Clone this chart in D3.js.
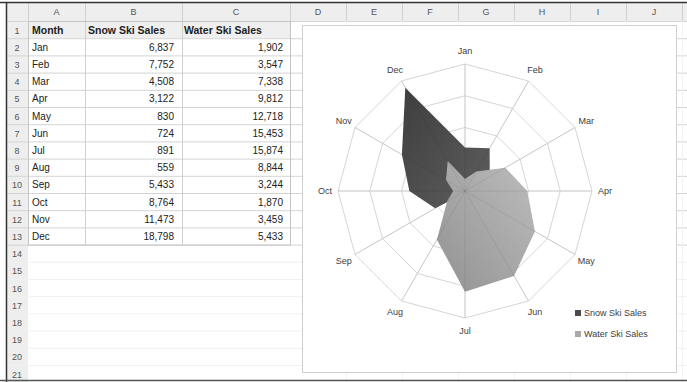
<!DOCTYPE html>
<html><head><meta charset="utf-8">
<script src="https://cdn.jsdelivr.net/npm/d3@7"></script>
<style>
html,body{margin:0;padding:0;background:#fff;}
svg{display:block;font-family:"Liberation Sans",Arial,sans-serif;}
</style></head>
<body><svg id="c" width="687" height="382"></svg>
<script>
// ---- data ----
const months = ["Jan","Feb","Mar","Apr","May","Jun","Jul","Aug","Sep","Oct","Nov","Dec"];
const snowSales = [6837,7752,4508,3122,830,724,891,559,5433,8764,11473,18798];
const waterSales = [1902,3547,7338,9812,12718,15453,15874,8844,3244,1870,3459,5433];
const headers = ["Month","Snow Ski Sales","Water Ski Sales"];
const seriesNames = ["Snow Ski Sales","Water Ski Sales"];
const columnLetters = ["A","B","C","D","E","F","G","H","I","J"];
const gridTicks = [5000,10000,15000,20000];
const rowCount = 21;

// ---- layout ----
const svg = d3.select("#c");
const colEdges = [28,85,182,290,346,402,458,514,570,626,682];
const rowTop = 21, rowH = 17.2, hdrTop = 3;
const fmt = d3.format(",");

// header band
svg.append("rect").attr("x",7).attr("y",hdrTop).attr("width",680).attr("height",rowTop-hdrTop).attr("fill","#eeeeee");
svg.append("rect").attr("x",7).attr("y",hdrTop).attr("width",21).attr("height",382-hdrTop).attr("fill","#eeeeee");
// row 1 light fill
svg.append("rect").attr("x",colEdges[0]).attr("y",rowTop).attr("width",colEdges[3]-colEdges[0]).attr("height",rowH).attr("fill","#efefef");

// sheet gridlines
const g = svg.append("g");
for (let i=0;i<=rowCount;i++){
  const y = rowTop + i*rowH + 0.5;
  g.append("line").attr("x1",7).attr("x2",687).attr("y1",y).attr("y2",y).attr("stroke", i<=13 ? "#d4d4d4":"#f1f1f1");
}
colEdges.forEach((x,i)=>{
  g.append("line").attr("x1",x+0.5).attr("x2",x+0.5).attr("y1",hdrTop).attr("y2",i<=3? rowTop+13*rowH : rowTop)
   .attr("stroke","#d0d0d0");
  if(i>3) g.append("line").attr("x1",x+0.5).attr("x2",x+0.5).attr("y1",rowTop).attr("y2",382).attr("stroke","#f3f3f3");
});
svg.append("rect").attr("x",colEdges[0]+0.5).attr("y",rowTop+0.5).attr("width",colEdges[3]-colEdges[0]).attr("height",13*rowH)
  .attr("fill","none").attr("stroke","#c4c4c4");

// column letters
columnLetters.forEach((c,i)=>{
  svg.append("text").attr("x",(colEdges[i]+colEdges[i+1])/2).attr("y",15).attr("text-anchor","middle")
    .attr("font-size",9).attr("fill","#555").text(c);
});
// row numbers
d3.range(1,rowCount+1).forEach(r=>{
  svg.append("text").attr("x",17).attr("y",rowTop+(r-1)*rowH+12.5).attr("text-anchor","middle")
    .attr("font-size",9).attr("fill","#555").text(r);
});
// header row texts
const cellX = [colEdges[0]+4, colEdges[1]+3, colEdges[2]+2];
headers.forEach((h,i)=>{
  svg.append("text").attr("x",cellX[i]).attr("y",rowTop+12.5).attr("font-size",10.5).attr("font-weight","bold")
    .attr("fill","#222").text(h);
});
months.forEach((m,i)=>{
  const y = rowTop+(i+1)*rowH+12.5;
  svg.append("text").attr("x",cellX[0]).attr("y",y).attr("font-size",10).attr("fill","#222").text(m);
  svg.append("text").attr("x",colEdges[2]-8).attr("y",y).attr("font-size",10).attr("text-anchor","end").attr("fill","#222").text(fmt(snowSales[i]));
  svg.append("text").attr("x",colEdges[3]-7).attr("y",y).attr("font-size",10).attr("text-anchor","end").attr("fill","#222").text(fmt(waterSales[i]));
});

// frame
svg.append("line").attr("x1",0).attr("x2",687).attr("y1",2.5).attr("y2",2.5).attr("stroke","#333").attr("stroke-width",1.5);
svg.append("line").attr("x1",6.5).attr("x2",6.5).attr("y1",2).attr("y2",382).attr("stroke","#333").attr("stroke-width",1.5);
svg.append("line").attr("x1",0).attr("x2",687).attr("y1",380.5).attr("y2",380.5).attr("stroke","#555").attr("stroke-width",1.5);

// ---- chart ----
svg.append("rect").attr("x",302.5).attr("y",25.5).attr("width",374).attr("height",347)
  .attr("fill","#fff").attr("stroke","#cfcfcf");

const cx = 465, cy = 191, R = 127;
const r = d3.scaleLinear().domain([0,20000]).range([0,R]);
const ang = d3.scalePoint().domain(months).range([0, 2*Math.PI*(11/12)]);
const pt = (m,v)=>[cx + r(v)*Math.sin(ang(m)), cy - r(v)*Math.cos(ang(m))];

const defs = svg.append("defs");
const gd = defs.append("linearGradient").attr("id","gDark").attr("x1","0").attr("y1","0").attr("x2","1").attr("y2","1");
gd.append("stop").attr("offset","0").attr("stop-color","#3e3e3e");
gd.append("stop").attr("offset","1").attr("stop-color","#5e5e5e");
const gl = defs.append("linearGradient").attr("id","gLight").attr("x1","1").attr("y1","0").attr("x2","0").attr("y2","1");
gl.append("stop").attr("offset","0").attr("stop-color","#bdbdbd");
gl.append("stop").attr("offset","1").attr("stop-color","#929292");

const chart = svg.append("g");
gridTicks.forEach(t=>{
  chart.append("path").attr("d", d3.line()(months.map(m=>pt(m,t))) + "Z")
    .attr("fill","none").attr("stroke","#d6d6d6").attr("stroke-width",1);
});
months.forEach(m=>{
  const [x,y] = pt(m,20000);
  chart.append("line").attr("x1",cx).attr("y1",cy).attr("x2",x).attr("y2",y).attr("stroke","#d6d6d6");
});
const line = d3.lineRadial().angle((d,i)=>ang(months[i])).radius(d=>r(d)).curve(d3.curveLinearClosed);
chart.append("path").attr("transform",`translate(${cx},${cy})`).attr("d",line(snowSales)).attr("fill","url(#gDark)");
chart.append("path").attr("transform",`translate(${cx},${cy})`).attr("d",line(waterSales)).attr("fill","url(#gLight)");
months.forEach(m=>{
  const [x,y] = pt(m,20000);
  chart.append("line").attr("x1",cx).attr("y1",cy).attr("x2",x).attr("y2",y).attr("stroke","rgba(0,0,0,0.07)");
});
months.forEach(m=>{
  const a = ang(m);
  const lr = R + 13;
  const x = cx + lr*Math.sin(a), y = cy - lr*Math.cos(a);
  chart.append("text").attr("x",x).attr("y",y+3).attr("text-anchor","middle").attr("font-size",9).attr("fill","#404040").text(m);
});
// legend
const legColors = ["#4a4a4a","#a8a8a8"];
seriesNames.forEach((s,i)=>{
  const y = 313 + i*21;
  svg.append("rect").attr("x",575).attr("y",y-3).attr("width",6).attr("height",6).attr("fill",legColors[i]);
  svg.append("text").attr("x",584).attr("y",y+3).attr("font-size",9).attr("fill","#404040").text(s);
});
</script></body></html>
